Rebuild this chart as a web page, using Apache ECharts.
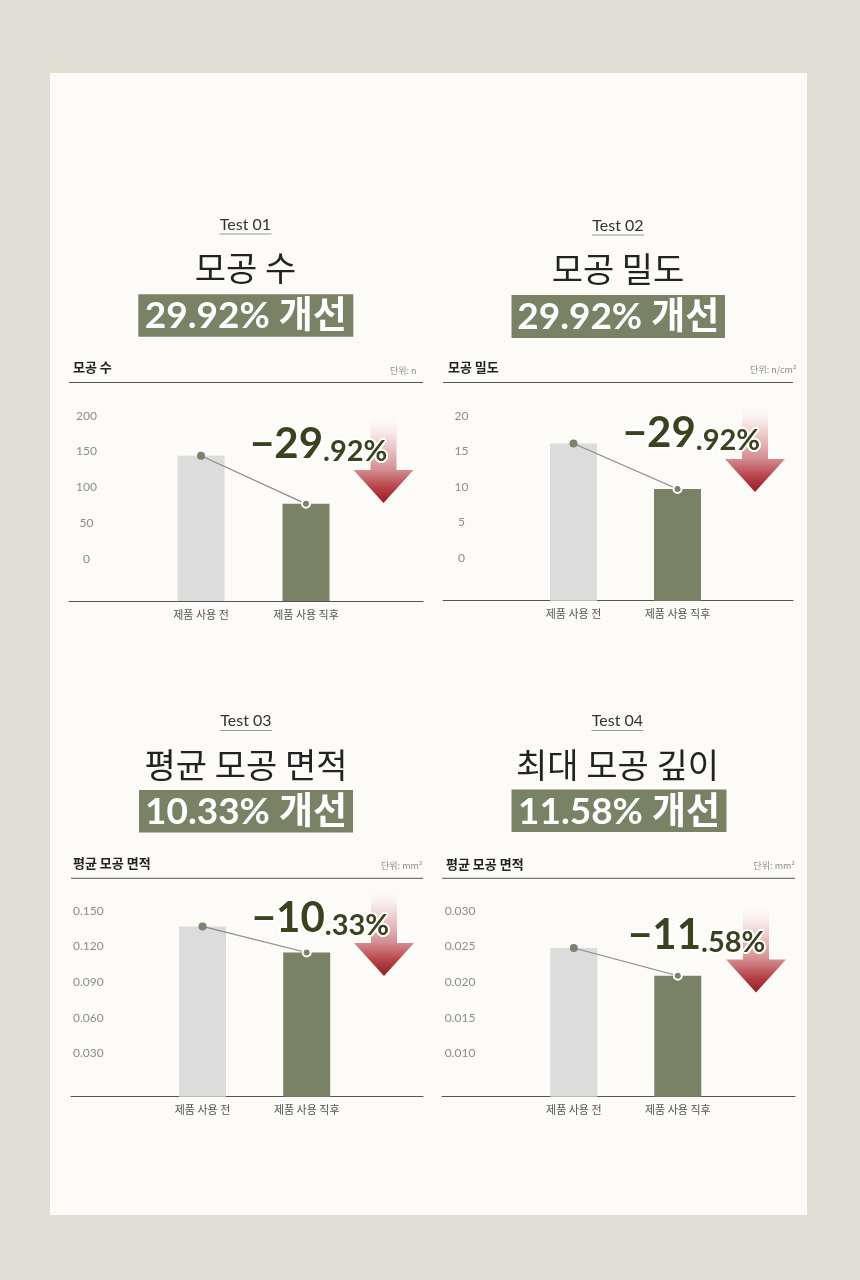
<!DOCTYPE html>
<html><head><meta charset="utf-8">
<script src="https://cdn.jsdelivr.net/npm/echarts@6/dist/echarts.min.js"></script>
<style>html,body{margin:0;padding:0;background:#dfe0d3}#c{width:860px;height:1280px}</style>
</head><body><div id="c"></div>
<script>
// ---- data ----
const testLabels = ['Test 01', 'Test 02', 'Test 03', 'Test 04'];
const metricTitles = ['모공 수', '모공 밀도', '평균 모공 면적', '최대 모공 깊이'];
const chartHeaders = ['모공 수', '모공 밀도', '평균 모공 면적', '평균 모공 면적'];
const unitLabels = ['단위: n', '단위: n/cm²', '단위: mm²', '단위: mm²'];
const improvements = ['29.92', '29.92', '10.33', '11.58'];
const categories = ['제품 사용 전', '제품 사용 직후'];
const beforeValues = [144, 16.1, 0.137, 0.0248];
const afterValues = [77, 9.7, 0.115, 0.0209];
const tickMin = [0, 0, 0.030, 0.010];
const tickMax = [200, 20, 0.150, 0.030];
const tickStep = [50, 5, 0.030, 0.005];
const tickDecimals = [0, 0, 3, 3];

// ---- layout (pixels) ----
const layout = [
  {cx:245.5, testY:225, ulY:234, titleY:268, box:[138.3,294.3,215,42.4], axisX:69, axisR:423, labX:86.5, headX:73, headY:367, unitR:416.5, unitY:370.5, hlineY:382.5, labTop:415.7, labBot:559, base:601, barL:148.5, barW:210, pct:[250,461], arrow:[383.5,503]},
  {cx:618, testY:226, ulY:235, titleY:269, box:[511.5,295,213.5,43], axisX:443, axisR:793, labX:461.5, headX:448, headY:367, unitR:796.5, unitY:370, hlineY:382.5, labTop:415.7, labBot:558, base:600.7, barL:521.5, barW:208, pct:[622.7,450], arrow:[755,492]},
  {cx:246, testY:721, ulY:730.5, titleY:765, box:[139,790,214,42.5], axisX:71, axisR:423, labX:88.4, headX:73, headY:863, unitR:422.5, unitY:866, hlineY:878.3, labTop:911, labBot:1053.3, base:1096.7, barL:150.4, barW:208.4, pct:[251.7,935], arrow:[384,976]},
  {cx:617.5, testY:721, ulY:730.5, titleY:765, box:[511.5,789.5,215,42.5], axisX:442, axisR:795, labX:460, headX:446, headY:864, unitR:795, unitY:866, hlineY:878.3, labTop:911, labBot:1053.3, base:1096.7, barL:521.8, barW:208, pct:[628,952], arrow:[756,992.5]}
];

const KR = "'Noto Sans CJK KR', sans-serif";
const LAT = "Lato, 'Noto Sans CJK KR', sans-serif";
const GREEN = '#7a8266';
const barColors = ['#dcdcdc', GREEN];
const BAR_W = 47;

const chart = echarts.init(document.getElementById('c'), null, {renderer: 'canvas'});
const grids = [], xAxes = [], yAxes = [], series = [], graphics = [];

graphics.push({type:'rect', z:-10, silent:true, shape:{x:50, y:73, width:757, height:1142}, style:{fill:'#fcfbf8'}});

layout.forEach((L, i) => {
  const lo = tickMin[i], hi = tickMax[i];
  const perPx = (hi - lo) / (L.labBot - L.labTop);
  const barMin = lo - (L.base - L.labBot) * perPx;

  // grid A: tick labels + baseline
  const gA = grids.length;
  grids.push({left: L.axisX, top: L.labTop, width: L.axisR - L.axisX, height: L.labBot - L.labTop});
  xAxes.push({gridIndex: gA, type: 'category', data: categories, offset: L.base - L.labBot,
    axisLine: {onZero: false, lineStyle: {color: '#555', width: 1}}, axisTick: {show: false}, axisLabel: {show: false}, splitLine:{show:false}});
  yAxes.push({gridIndex: gA, type: 'value', min: lo, max: hi, interval: tickStep[i],
    axisLine: {show: false}, axisTick: {show: false}, splitLine: {show: false},
    axisLabel: {inside: true, align: 'center', margin: L.labX - L.axisX, color: '#8c8c8c', fontSize: 12, fontFamily: LAT,
      formatter: v => Number(v).toFixed(tickDecimals[i])}});

  // grid B: bars
  const gB = grids.length;
  grids.push({left: L.barL, top: L.labTop, width: L.barW, height: L.base - L.labTop});
  xAxes.push({gridIndex: gB, type: 'category', data: categories,
    axisLine: {show: false, onZero: false}, axisTick: {show: false},
    axisLabel: {margin: 8, color: '#555', fontSize: 11, fontFamily: KR}});
  yAxes.push({gridIndex: gB, type: 'value', min: barMin, max: hi, show: false});

  series.push({
    type: 'custom', xAxisIndex: gB, yAxisIndex: gB, z: 2, silent: true,
    encode: {x: 0, y: 1},
    data: [[0, beforeValues[i]], [1, afterValues[i]]],
    renderItem: (params, api) => {
      const p = api.coord([api.value(0), api.value(1)]);
      const cs = params.coordSys;
      const bottom = cs.y + cs.height;
      return {type: 'rect', shape: {x: p[0] - BAR_W / 2, y: p[1], width: BAR_W, height: bottom - p[1]},
        style: {fill: barColors[params.dataIndex]}};
    }
  });
  series.push({
    type: 'line', xAxisIndex: gB, yAxisIndex: gB, z: 4, silent: true,
    symbol: 'circle', symbolSize: 8,
    lineStyle: {color: '#8a8a8a', width: 1.2},
    itemStyle: {color: '#7b8270'},
    data: [{value: beforeValues[i]}, {value: afterValues[i], itemStyle: {borderColor: '#fff', borderWidth: 2}}]
  });

  // titles
  graphics.push({type: 'text', x: L.cx, y: L.testY, style: {text: testLabels[i], fill: '#333', font: `16px ${LAT}`, align: 'center', verticalAlign: 'middle'}});
  graphics.push({type: 'line', shape: {x1: L.cx - 26, y1: L.ulY, x2: L.cx + 26, y2: L.ulY}, style: {stroke: '#999', lineWidth: 1}});
  graphics.push({type: 'text', x: L.cx, y: L.titleY, style: {text: metricTitles[i], fill: '#222', font: `34px ${KR}`, align: 'center', verticalAlign: 'middle'}});
  graphics.push({type: 'rect', shape: {x: L.box[0], y: L.box[1], width: L.box[2], height: L.box[3]}, style: {fill: GREEN}});
  graphics.push({type: 'text', x: L.box[0] + L.box[2] / 2, y: L.box[1] + L.box[3] / 2 + 1,
    style: {text: improvements[i] + '% 개선', fill: '#fff', font: `bold 37px ${LAT}`, align: 'center', verticalAlign: 'middle'}});

  // chart header
  graphics.push({type: 'text', x: L.headX, y: L.headY, style: {text: chartHeaders[i], fill: '#222', font: `bold 13px ${KR}`, align: 'left', verticalAlign: 'middle'}});
  graphics.push({type: 'text', x: L.unitR, y: L.unitY, style: {text: unitLabels[i], fill: '#8c8c8c', font: `9px ${KR}`, align: 'right', verticalAlign: 'middle'}});
  graphics.push({type: 'line', shape: {x1: L.axisX, y1: L.hlineY, x2: L.axisR, y2: L.hlineY}, style: {stroke: '#555', lineWidth: 1}});

  // arrow
  const tx = L.arrow[0], ty = L.arrow[1];
  graphics.push({type: 'polygon', z: 5,
    shape: {points: [[tx - 13, ty - 90], [tx + 13, ty - 90], [tx + 13, ty - 33], [tx + 30, ty - 33], [tx, ty], [tx - 30, ty - 33], [tx - 13, ty - 33]]},
    style: {fill: new echarts.graphic.LinearGradient(0, 0, 0, 1, [
      {offset: 0, color: 'rgba(255,255,255,0)'},
      {offset: 0.3, color: 'rgba(240,210,211,0.9)'},
      {offset: 0.63, color: '#d38e91'},
      {offset: 0.82, color: '#b8454b'},
      {offset: 1, color: '#961c22'}
    ])}});

  // percent annotation
  const parts = improvements[i].split('.');
  graphics.push({type: 'text', z: 6, x: L.pct[0], y: L.pct[1] + 4.7,
    style: {text: `{b|−${parts[0]}}{s|.${parts[1]}%}`, align: 'left', verticalAlign: 'bottom',
      fill: '#3c4120', stroke: '#fff', lineWidth: 4, strokeFirst: true,
      rich: {
        b: {fontSize: 42, fontWeight: 'bold', fontStyle: 'normal', fontFamily: LAT, fill: '#3c4120', stroke: '#fff', lineWidth: 4, lineHeight: 42, verticalAlign: 'bottom'},
        s: {fontSize: 29, fontWeight: 'bold', fontStyle: 'normal', fontFamily: LAT, fill: '#3c4120', stroke: '#fff', lineWidth: 4, lineHeight: 32, verticalAlign: 'bottom'}
      }}});
});

chart.setOption({
  animation: false,
  backgroundColor: '#dfe0d3',
  grid: grids, xAxis: xAxes, yAxis: yAxes, series: series,
  graphic: {elements: graphics}
});
</script></body></html>
